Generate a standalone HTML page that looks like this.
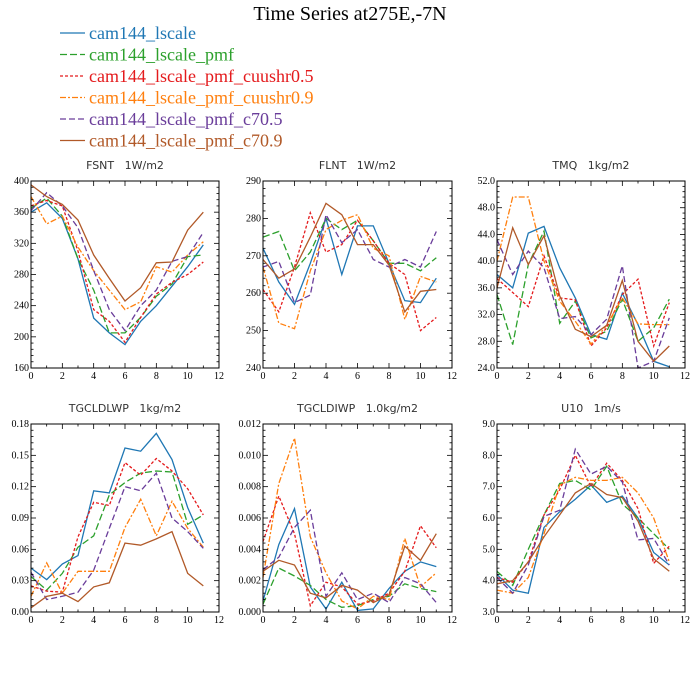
<!DOCTYPE html>
<html><head><meta charset="utf-8"><style>
body{margin:0;background:#fff;width:700px;height:700px;overflow:hidden}
svg{display:block}
.pt{font-family:"DejaVu Sans","Liberation Sans",sans-serif;font-size:11px;fill:#333;white-space:pre}
.tk{font-family:"Liberation Serif",serif;font-size:10px;fill:#000}
.lg{font-family:"Liberation Serif",serif;font-size:18px}
</style></head><body>
<svg id="c" width="700" height="700" xmlns="http://www.w3.org/2000/svg">
<text x="350" y="20" text-anchor="middle" font-family="Liberation Serif, serif" font-size="20">Time Series at275E,-7N</text>
</svg>
<script>
const seriesNames=["cam144_lscale","cam144_lscale_pmf","cam144_lscale_pmf_cuushr0.5","cam144_lscale_pmf_cuushr0.9","cam144_lscale_pmf_c70.5","cam144_lscale_pmf_c70.9"];
const months=[0,1,2,3,4,5,6,7,8,9,10,11];
const xTicks=[0,2,4,6,8,10,12];
const fsntBlue=[360,372,352,300,224,205,190,220,240,265,290,318];
const fsntGreen=[365,378,355,300,260,205,205,225,252,268,303,305];
const fsntRed=[368,375,368,310,235,220,193,225,255,270,280,296];
const fsntOrange=[380,345,355,315,285,260,235,245,290,283,305,322];
const fsntPurple=[362,385,368,340,285,235,208,240,260,297,303,334];
const fsntBrown=[395,380,370,350,305,275,246,263,295,296,337,360];
const flntBlue=[272,263,257,268,280,265,278,278,268,258,257.5,264];
const flntGreen=[275,276.5,266,271,280,277,279.5,274,268,268,266,269.5];
const flntRed=[261,255,267,281.5,271,273,279.5,274,268,265,250,253.5];
const flntOrange=[267,252,250.5,266,277,279.5,281,272,270,253,264.5,263];
const flntPurple=[267,268.5,257.5,259.5,281,273.5,277,269,267,269,267,276.5];
const flntBrown=[269,264,266.5,275,284,281,273,273,267.5,255,260.5,261];
const tmqBlue=[38,36,44.2,45.2,39,34.5,29,28.3,35.2,30.5,25,24.2];
const tmqGreen=[35,27.5,39.5,44.5,30.7,34,28.5,29.5,34.3,28,30,34.3];
const tmqRed=[37.4,35.3,33.2,40.8,34.5,34.2,27.3,30,35,37.3,27.3,33.8];
const tmqOrange=[40,49.6,49.6,40,34,31,27.6,30.4,34.5,30.6,30.5,30.5];
const tmqPurple=[43.2,38,41.5,39,31.4,31.7,29,31.3,39.3,24,25,31.5];
const tmqBrown=[36,45,39.5,43.8,34.8,29.8,28.7,30.4,37.1,28,25,27.3];
const lwpBlue=[.042,.031,.046,.054,.116,.114,.157,.154,.171,.146,.1,.066];
const lwpGreen=[.034,.021,.037,.062,.073,.112,.124,.133,.135,.134,.084,.093];
const lwpRed=[.025,.020,.019,.072,.105,.102,.143,.131,.147,.135,.118,.093];
const lwpOrange=[.015,.047,.018,.039,.039,.039,.081,.108,.073,.106,.08,.062];
const lwpPurple=[.038,.012,.015,.019,.04,.08,.12,.116,.133,.09,.077,.061];
const lwpBrown=[.004,.015,.018,.01,.024,.028,.066,.064,.07,.077,.037,.025];
const iwpBlue=[.0007,.0043,.0066,.0016,.0002,.0019,.0001,.0002,.0015,.0026,.0032,.0029];
const iwpGreen=[.0005,.0028,.0023,.0017,.0008,.0003,.0004,.0008,.001,.0018,.0015,.0013];
const iwpRed=[.0045,.0074,.005,.0004,.0019,.0016,.0005,.0007,.0012,.0026,.0055,.0041];
const iwpOrange=[.0022,.0082,.0111,.0048,.0025,.0007,.0002,.001,.0008,.0047,.0016,.0025];
const iwpPurple=[.0027,.0035,.0054,.0065,.001,.0025,.0008,.0012,.0006,.0022,.0018,.0006];
const iwpBrown=[.0026,.0033,.003,.0012,.0009,.0017,.0014,.0006,.0011,.0042,.0033,.005];
const u10Blue=[4.2,3.7,3.6,5.7,6.2,6.6,7.05,6.5,6.7,6.0,4.9,4.5];
const u10Green=[4.3,3.85,5.0,6.1,7.1,7.2,6.9,7.65,6.45,6.0,5.5,5.0];
const u10Red=[4.1,3.95,4.6,6.1,6.9,8.0,7.0,7.75,7.2,6.3,4.55,5.1];
const u10Orange=[3.7,3.6,4.1,5.5,7.05,7.3,7.2,7.2,7.3,6.8,6.0,4.6];
const u10Purple=[4.1,3.6,4.5,6.05,6.25,8.2,7.4,7.65,7.15,5.3,5.35,4.5];
const u10Brown=[3.9,4.0,4.6,5.4,6.1,6.8,7.1,6.75,6.65,5.9,4.7,4.3];
const fsntTicks=["160","200","240","280","320","360","400"];
const flntTicks=["240","250","260","270","280","290"];
const tmqTicks=["24.0","28.0","32.0","36.0","40.0","44.0","48.0","52.0"];
const lwpTicks=["0.00","0.03","0.06","0.09","0.12","0.15","0.18"];
const iwpTicks=["0.000","0.002","0.004","0.006","0.008","0.010","0.012"];
const u10Ticks=["3.0","4.0","5.0","6.0","7.0","8.0","9.0"];

const NS="http://www.w3.org/2000/svg";
const svg=document.getElementById('c');
const colors=["#1f77b4","#2ca02c","#e41a1c","#ff7f0e","#6a3d9a","#b15928"];
const dashes=["","7,3","3,2","6,2,2,2","6,3",""];
function mk(tag,attrs,parent){const e=document.createElementNS(NS,tag);for(const k in attrs)e.setAttribute(k,attrs[k]);(parent||svg).appendChild(e);return e;}

seriesNames.forEach((n,i)=>{
  const y=33+i*21.5;
  const l=mk('line',{x1:60,x2:85,y1:y,y2:y,stroke:colors[i],'stroke-width':1.3,'stroke-dasharray':dashes[i]});
  
  
  const t=mk('text',{x:89,y:y+6,class:'lg',fill:colors[i]});
  t.textContent=n;
  
  
});

function panel(name,title,x0,x1,y0,y1,ticks,series){
  const g=mk('g',{});
  
  
  const ymin=parseFloat(ticks[0]),ymax=parseFloat(ticks[ticks.length-1]);
  const sx=v=>x0+(v-0)/(12-0)*(x1-x0);
  const sy=v=>y1-(v-ymin)/(ymax-ymin)*(y1-y0);
  const tt=mk('text',{x:(x0+x1)/2,y:y0-12,'text-anchor':'middle',class:'pt'},g);
  tt.textContent=title;
  
  
  series.forEach((d,i)=>{
    const p=mk('polyline',{points:d.map((v,j)=>sx(months[j]).toFixed(1)+','+sy(v).toFixed(1)).join(' '),fill:'none',stroke:colors[i],'stroke-width':1.3,'stroke-dasharray':dashes[i]},g);
    
    
  });
  const f=mk('rect',{x:x0,y:y0,width:x1-x0,height:y1-y0,fill:'none',stroke:'#000','stroke-width':1},g);
  
  
  for(let v=0;v<=12;v+=1){
    const X=sx(v),L=v%2==0?5:2.5;
    mk('line',{x1:X,x2:X,y1:y1,y2:y1-L,stroke:'#000','stroke-width':0.8},g);
    mk('line',{x1:X,x2:X,y1:y0,y2:y0+L,stroke:'#000','stroke-width':0.8},g);
  }
  xTicks.forEach(v=>{
    const t=mk('text',{x:sx(v),y:y1+11,'text-anchor':'middle',class:'tk'},g);
    t.textContent=v;
    
    
  });
  const step=(ymax-ymin)/(ticks.length-1);
  for(let k=0;k<(ticks.length-1)*5+1;k++){
    const v=ymin+k*step/5,Y=sy(v),L=k%5==0?5:2.5;
    mk('line',{x1:x0,x2:x0+L,y1:Y,y2:Y,stroke:'#000','stroke-width':0.8},g);
    mk('line',{x1:x1,x2:x1-L,y1:Y,y2:Y,stroke:'#000','stroke-width':0.8},g);
  }
  ticks.forEach(s=>{
    const t=mk('text',{x:x0-2,y:sy(parseFloat(s))+3,'text-anchor':'end',class:'tk'},g);
    t.textContent=s;
    
    
  });
}
panel('fsnt','FSNT   1W/m2',31,219,181,368,fsntTicks,[fsntBlue,fsntGreen,fsntRed,fsntOrange,fsntPurple,fsntBrown]);
panel('flnt','FLNT   1W/m2',263,452,181,368,flntTicks,[flntBlue,flntGreen,flntRed,flntOrange,flntPurple,flntBrown]);
panel('tmq','TMQ   1kg/m2',497,685,181,368,tmqTicks,[tmqBlue,tmqGreen,tmqRed,tmqOrange,tmqPurple,tmqBrown]);
panel('tgcldlwp','TGCLDLWP   1kg/m2',31,219,424,612,lwpTicks,[lwpBlue,lwpGreen,lwpRed,lwpOrange,lwpPurple,lwpBrown]);
panel('tgcldiwp','TGCLDIWP   1.0kg/m2',263,452,424,612,iwpTicks,[iwpBlue,iwpGreen,iwpRed,iwpOrange,iwpPurple,iwpBrown]);
panel('u10','U10   1m/s',497,685,424,612,u10Ticks,[u10Blue,u10Green,u10Red,u10Orange,u10Purple,u10Brown]);
</script>
</body></html>
